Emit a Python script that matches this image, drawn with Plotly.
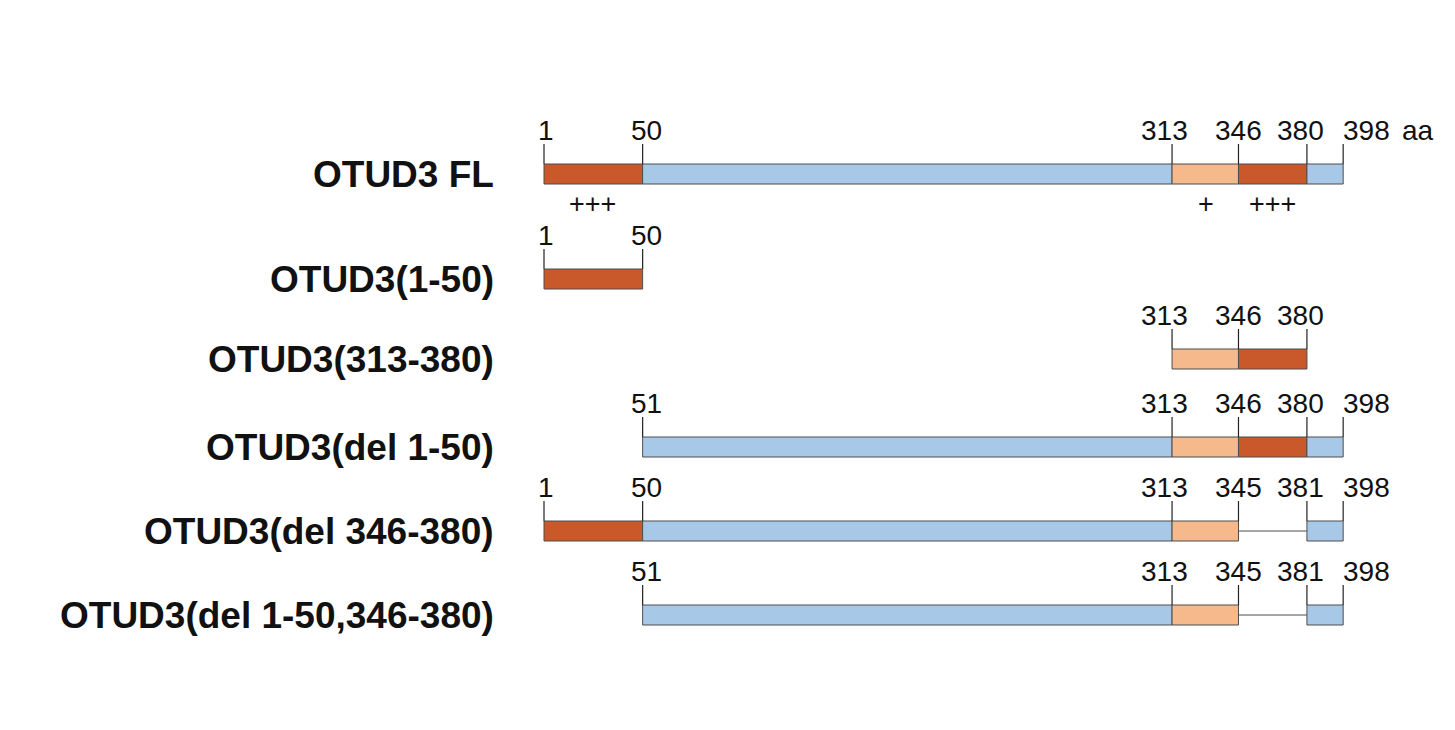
import plotly.graph_objects as go

DARK = "#c9592b"
LIGHT = "#f5b98c"
BLUE = "#a8c8e8"
EDGE = "#4d4d4d"

names = ["OTUD3 FL", "OTUD3(1-50)", "OTUD3(313-380)", "OTUD3(del 1-50)",
         "OTUD3(del 346-380)", "OTUD3(del 1-50,346-380)"]
row_y = [173, 278, 358, 446, 530, 614]
segments = [
    [(1, 50, DARK), (50, 313, BLUE), (313, 346, LIGHT), (346, 380, DARK), (380, 398, BLUE)],
    [(1, 50, DARK)],
    [(313, 346, LIGHT), (346, 380, DARK)],
    [(50, 313, BLUE), (313, 346, LIGHT), (346, 380, DARK), (380, 398, BLUE)],
    [(1, 50, DARK), (50, 313, BLUE), (313, 346, LIGHT), (380, 398, BLUE)],
    [(50, 313, BLUE), (313, 346, LIGHT), (380, 398, BLUE)],
]
gaps = [[], [], [], [], [(346, 380)], [(346, 380)]]
tick_pos = [
    [1, 50, 313, 346, 380, 398],
    [1, 50],
    [313, 346, 380],
    [50, 313, 346, 380, 398],
    [1, 50, 313, 346, 380, 398],
    [50, 313, 346, 380, 398],
]
tick_text = [
    ["1", "50", "313", "346", "380", "398"],
    ["1", "50"],
    ["313", "346", "380"],
    ["51", "313", "346", "380", "398"],
    ["1", "50", "313", "345", "381", "398"],
    ["51", "313", "345", "381", "398"],
]
charge_pos = [25, 330, 363]
charge_text = ["+++", "+", "+++"]

# label placement style by tick position
label_anchor = {398: ("left", -2), 380: ("center", -6), 313: ("center", -8), 1: ("center", 2), 50: ("center", 4)}

H = 20
TICK = 20
fig = go.Figure()
shapes, ann = [], []
for i, y in enumerate(row_y):
    for a, b in gaps[i]:
        shapes.append(dict(type="line", xref="x", yref="y", x0=a, x1=b, y0=y, y1=y,
                           line=dict(color=EDGE, width=1)))
    for a, b, c in segments[i]:
        shapes.append(dict(type="rect", xref="x", yref="y", x0=a, x1=b, y0=y - H / 2, y1=y + H / 2,
                           fillcolor=c, line=dict(color=EDGE, width=1)))
    for p, t in zip(tick_pos[i], tick_text[i]):
        shapes.append(dict(type="line", xref="x", yref="y", x0=p, x1=p, y0=y - H / 2, y1=y - H / 2 - TICK,
                           line=dict(color="#222", width=1.2)))
        xa, xs = label_anchor.get(p, ("center", 0))
        ann.append(dict(x=p, y=y - H / 2 - TICK + 4, xref="x", yref="y", text=t, showarrow=False,
                        yanchor="bottom", xanchor=xa, xshift=xs, font=dict(size=28, color="#111")))
    ann.append(dict(x=488 / 1455, y=y, xref="paper", yref="y", text="<b>%s</b>" % names[i], showarrow=False,
                    xanchor="right", yanchor="middle", font=dict(size=37, color="#111")))
for p, t in zip(charge_pos, charge_text):
    ann.append(dict(x=p, y=row_y[0] + 30, xref="x", yref="y", text=t, showarrow=False,
                    xanchor="center", yanchor="middle", font=dict(size=27, color="#111")))
ann.append(dict(x=398, y=row_y[0] - H / 2 - TICK + 4, xref="x", yref="y", text="aa", xshift=57,
                showarrow=False, xanchor="left", yanchor="bottom", font=dict(size=28, color="#111")))

fig.update_layout(
    width=1455, height=730, margin=dict(l=0, r=0, t=0, b=0),
    paper_bgcolor="white", plot_bgcolor="white", showlegend=False,
    font=dict(family="Liberation Sans, Arial, sans-serif"),
    xaxis=dict(range=[1 - 536 / 2.013, 1 + 919 / 2.013], visible=False, fixedrange=True),
    yaxis=dict(range=[737, 7], visible=False, fixedrange=True),
    shapes=shapes, annotations=ann,
)
fig.write_html("out.html")
